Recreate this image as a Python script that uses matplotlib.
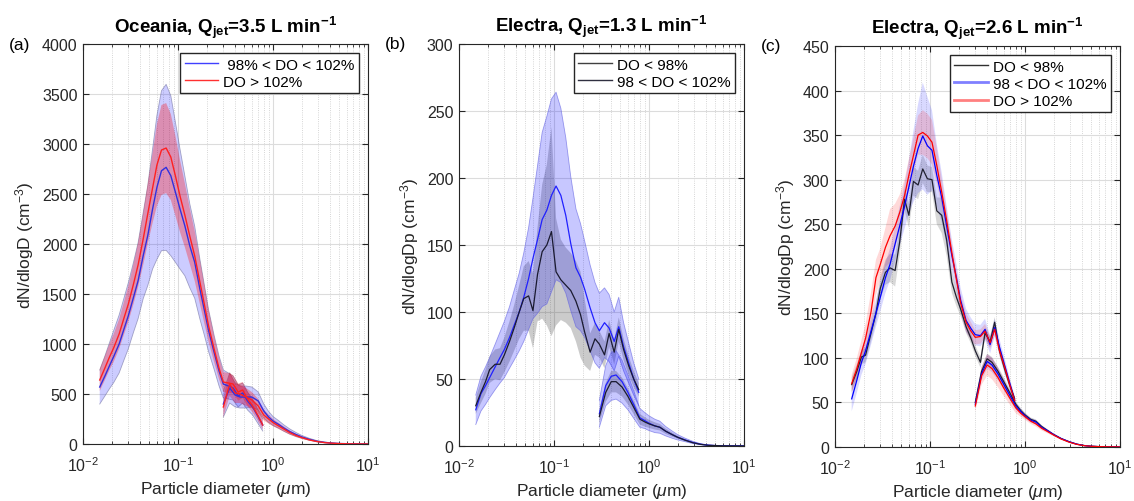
import numpy as np
import matplotlib
matplotlib.use('Agg')
import matplotlib.pyplot as plt
from matplotlib.lines import Line2D
from matplotlib.ticker import LogLocator, NullFormatter, MultipleLocator

plt.rcParams['font.family'] = ['Liberation Sans', 'DejaVu Sans']
plt.rcParams['mathtext.fontset'] = 'custom'
plt.rcParams['mathtext.rm'] = 'Liberation Sans'
plt.rcParams['mathtext.it'] = 'Liberation Sans:italic'
plt.rcParams['mathtext.bf'] = 'Liberation Sans:bold'

# particle diameters (um): fine-mode instrument and coarse-mode instrument
d_fine = [0.015, 0.017, 0.019, 0.021, 0.024, 0.027, 0.030, 0.034, 0.038, 0.043,
          0.048, 0.054, 0.060, 0.067, 0.075, 0.084, 0.094, 0.105, 0.118, 0.133,
          0.150, 0.170, 0.19, 0.21, 0.24, 0.27, 0.30, 0.34, 0.38, 0.43,
          0.48, 0.54, 0.61, 0.69, 0.78]
d_coarse = [0.3, 0.35, 0.4, 0.45, 0.52, 0.6, 0.7, 0.8, 0.9, 1.0, 1.15, 1.3,
            1.5, 1.75, 2.0, 2.4, 2.9, 3.5, 4.2, 5.0, 6.0, 7.5, 10.0]

# (a) Oceania, Qjet = 3.5 L/min
a_mid_fine = [570, 680, 783, 873, 1000, 1150, 1283, 1467, 1633, 1883, 2083, 2350, 2567, 2733,
              2767, 2683, 2517, 2350, 2183, 1983, 1817, 1550, 1333, 1133, 917, 733, 600,
              580, 560, 480, 510, 430, 370, 280, 190]
a_mid_fine_sd = [170, 200, 230, 260, 290, 310, 330, 350, 380, 430, 500, 600, 720, 800,
                 830, 800, 700, 600, 500, 420, 360, 300, 250, 210, 170, 150, 140,
                 130, 120, 110, 100, 90, 80, 70, 60]
a_high_fine = [640, 760, 870, 960, 1100, 1260, 1400, 1600, 1790, 2050, 2300, 2560, 2790, 2940,
               2960, 2870, 2680, 2480, 2290, 2080, 1880, 1620, 1390, 1180, 950, 760, 620,
               610, 600, 520, 540, 450, 380, 290, 190]
a_high_fine_sd = [110, 120, 130, 140, 150, 165, 180, 200, 220, 260, 300, 350, 410, 450,
                  450, 430, 400, 360, 320, 280, 250, 220, 190, 160, 130, 110, 100,
                  100, 90, 85, 80, 70, 65, 55, 45]
a_mid_coarse = [400, 560, 490, 470, 470, 470, 430, 330, 270, 230, 195, 160, 125, 95, 72, 48,
                28, 16, 9, 5, 3, 1, 0.5]
a_mid_coarse_sd = [130, 150, 120, 110, 110, 100, 90, 70, 55, 45, 38, 32, 26, 20, 15, 10,
                   6, 4, 2, 1, 1, 0.5, 0.3]
a_high_coarse = [370, 600, 510, 500, 470, 440, 380, 290, 250, 215, 180, 150, 115, 85, 65, 42,
                 25, 14, 8, 4, 2, 1, 0.5]
a_high_coarse_sd = [100, 120, 100, 90, 90, 80, 70, 55, 45, 36, 30, 26, 21, 16, 12, 8,
                    5, 3, 2, 1, 0.5, 0.3, 0.2]

# (b) Electra, Qjet = 1.3 L/min
b_low_fine = [30, 40, 48, 57, 61, 61, 68, 78, 88, 100, 110, 112, 101, 128,
              145, 150, 160, 130, 124, 120, 116, 108, 98, 85, 70, 80, 76,
              68, 84, 70, 87, 72, 60, 50, 42]
b_low_fine_sd = [6, 8, 9, 10, 11, 12, 13, 15, 17, 20, 24, 26, 28, 35,
                 50, 60, 78, 40, 30, 28, 28, 30, 32, 25, 14, 12, 10,
                 10, 10, 9, 9, 8, 7, 6, 5]
b_mid_fine = [27, 39, 45, 51, 59, 66, 72, 81, 90, 100, 111, 125, 140, 154,
              169, 176, 187, 194, 187, 172, 151, 133, 126, 117, 103, 92, 86,
              92, 88, 78, 89, 74, 62, 50, 40]
b_mid_fine_sd = [11, 13, 14, 15, 17, 19, 21, 23, 26, 29, 33, 38, 45, 55,
                 65, 70, 72, 70, 65, 58, 50, 44, 40, 36, 32, 30, 28,
                 26, 25, 22, 22, 18, 15, 12, 10]
b_low_coarse = [22, 40, 48, 48, 44, 37, 28, 20, 18, 16.5, 15, 14, 11, 8.5, 6.5, 4.3,
                2.4, 1.2, 0.5, 0.3, 0.1, 0.05, 0]
b_low_coarse_sd = [5, 7, 8, 8, 7, 6, 5, 4, 3.5, 3, 2.7, 2.4, 2, 1.5, 1.1, 0.8,
                   0.5, 0.3, 0.1, 0.05, 0.05, 0.05, 0.05]
b_mid_coarse = [24, 45, 52, 53, 48, 40, 30, 21, 19, 17, 15, 14, 11, 8.5, 6.5, 4.5,
                2.6, 1.3, 0.6, 0.3, 0.15, 0.1, 0.05]
b_mid_coarse_sd = [10, 15, 18, 18, 16, 13, 10, 7, 6, 5.5, 5, 4.5, 3.5, 2.7, 2, 1.3,
                   0.8, 0.4, 0.2, 0.1, 0.05, 0.03, 0.02]

# (c) Electra, Qjet = 2.6 L/min
c_low_fine = [70, 85, 101, 103, 128, 150, 178, 196, 201, 198, 230, 278, 260, 298,
              294, 312, 301, 300, 265, 260, 232, 185, 168, 155, 135, 122, 108,
              95, 128, 118, 140, 108, 88, 70, 54]
c_low_fine_sd = [8, 8, 8, 8, 9, 10, 12, 14, 16, 18, 15, 12, 14, 16,
                 16, 16, 15, 14, 15, 20, 18, 12, 10, 8, 7, 6, 6,
                 6, 6, 6, 6, 5, 5, 4, 3]
c_mid_fine = [54, 75, 95, 108, 130, 150, 168, 190, 205, 228, 248, 270, 292, 315,
              335, 349, 338, 333, 305, 280, 248, 215, 190, 165, 142, 133, 126,
              125, 132, 115, 134, 112, 92, 72, 52]
c_mid_fine_sd = [14, 14, 14, 15, 15, 15, 16, 17, 18, 20, 22, 25, 30, 40,
                 50, 60, 55, 45, 35, 28, 22, 18, 15, 14, 13, 12, 12,
                 12, 12, 10, 10, 9, 8, 6, 5]
c_high_fine = [71, 88, 106, 122, 152, 190, 205, 224, 237, 248, 263, 282, 305, 327,
               350, 353, 349, 342, 316, 286, 254, 218, 188, 162, 140, 130, 123,
               124, 130, 117, 132, 108, 90, 70, 52]
c_high_fine_sd = [10, 12, 14, 16, 22, 20, 18, 22, 30, 25, 20, 18, 18, 20,
                  22, 25, 25, 25, 20, 15, 12, 10, 10, 10, 10, 10, 8,
                  8, 8, 7, 7, 6, 5, 5, 4]
c_low_coarse = [50, 85, 99, 95, 85, 73, 60, 48, 41, 36, 31, 29, 23, 18, 14, 9.5,
                6, 3.2, 1.6, 0.8, 0.4, 0.2, 0.1]
c_low_coarse_sd = [4, 5, 6, 6, 5, 5, 4, 3, 3, 2.5, 2, 2, 1.6, 1.3, 1, 0.7,
                   0.4, 0.2, 0.1, 0.05, 0.05, 0.05, 0.05]
c_mid_coarse = [48, 82, 96, 92, 82, 70, 57, 46, 40, 35, 30, 28, 22, 18, 14, 9.5,
                6, 3.2, 1.6, 0.8, 0.4, 0.2, 0.1]
c_mid_coarse_sd = [5, 7, 8, 8, 7, 6, 5, 4, 3.5, 3, 2.5, 2.5, 2, 1.6, 1.2, 0.8,
                   0.5, 0.3, 0.15, 0.05, 0.05, 0.05, 0.05]
c_high_coarse = [46, 80, 92, 88, 78, 66, 54, 44, 38, 34, 29, 26, 21, 17, 13.5, 9,
                 5.5, 3, 1.5, 0.8, 0.4, 0.2, 0.1]
c_high_coarse_sd = [6, 10, 12, 12, 11, 9, 7, 6, 4, 3.5, 3, 3, 2.5, 2, 1.5, 1,
                    0.7, 0.4, 0.2, 0.1, 0.05, 0.03, 0.02]

AX_COL = '#262626'
fig = plt.figure(figsize=(11.34, 5.02), dpi=100)
ax_a = fig.add_axes([0.0732, 0.1135, 0.2513, 0.7968])
ax_b = fig.add_axes([0.4048, 0.1096, 0.2513, 0.8008])
ax_c = fig.add_axes([0.7363, 0.1076, 0.2513, 0.7988])


def band(ax, d, m, s, color, alpha, edge=None, zorder=1):
    m = np.array(m, dtype=float)
    s = np.array(s, dtype=float)
    ax.fill_between(d, m - s, m + s, facecolor=color, alpha=alpha,
                    edgecolor='none', zorder=zorder)
    if edge is not None:
        ax.plot(d, m + s, color=edge, lw=0.6, alpha=0.6, zorder=zorder)
        ax.plot(d, m - s, color=edge, lw=0.6, alpha=0.6, zorder=zorder)


def style(ax, ymax, ystep, ylabel, title, tag):
    ax.set_xscale('log')
    ax.set_xlim(0.01, 10)
    ax.set_ylim(0, ymax)
    ax.yaxis.set_major_locator(MultipleLocator(ystep))
    ax.xaxis.set_major_locator(LogLocator(base=10, numticks=10))
    ax.xaxis.set_minor_locator(LogLocator(base=10, subs=np.arange(2, 10), numticks=20))
    ax.xaxis.set_minor_formatter(NullFormatter())
    ax.grid(True, which='major', color='#dcdcdc', lw=0.8, zorder=0)
    ax.grid(True, which='minor', axis='x', color='#c8c8c8', lw=0.6, ls=':', zorder=0)
    ax.set_axisbelow(True)
    ax.tick_params(which='both', direction='in', top=True, right=True,
                   colors=AX_COL, labelsize=11.5, labelcolor=AX_COL)
    ax.tick_params(which='major', length=4)
    ax.tick_params(which='minor', length=2)
    ax.tick_params(axis='x', which='major', pad=8)
    ax.tick_params(axis='y', which='major', pad=4)
    for sp in ax.spines.values():
        sp.set_color(AX_COL)
        sp.set_linewidth(0.8)
    ax.set_xlabel(r'Particle diameter ($\mu$m)', fontsize=12.5, color=AX_COL, labelpad=4)
    ax.set_ylabel(ylabel, fontsize=12.5, color=AX_COL, labelpad=4)
    ax.set_title(title, fontsize=13.5, fontweight='bold', pad=9)
    ax.text(-0.26, 1.0, tag, transform=ax.transAxes, fontsize=12.5, color='black',
            ha='left', va='center')


def legend(ax, handles, labels):
    ax.legend(handles, labels, loc='upper right', fontsize=11, fancybox=False,
              edgecolor=AX_COL, framealpha=1, handlelength=2.2, handletextpad=0.3,
              borderpad=0.3, labelspacing=0.2, borderaxespad=0.6)


# (a)
band(ax_a, d_fine, a_mid_fine, a_mid_fine_sd, 'blue', 0.2, edge='#7070a0')
band(ax_a, d_coarse, a_mid_coarse, a_mid_coarse_sd, 'blue', 0.2, edge='#7070a0')
band(ax_a, d_fine, a_high_fine, a_high_fine_sd, 'red', 0.3)
band(ax_a, d_coarse, a_high_coarse, a_high_coarse_sd, 'red', 0.3)
ax_a.plot(d_fine, a_mid_fine, color='#3030e0', lw=1, zorder=3)
ax_a.plot(d_coarse, a_mid_coarse, color='#3030e0', lw=1, zorder=3)
ax_a.plot(d_fine, a_high_fine, color='#ff2020', lw=1, zorder=4)
ax_a.plot(d_coarse, a_high_coarse, color='#ff2020', lw=1, zorder=4)
style(ax_a, 4000, 500, r'dN/dlogD (cm$^{-3}$)',
      r'Oceania, Q$_{\mathbf{jet}}$=3.5 L min$^{\mathbf{-1}}$', '(a)')
legend(ax_a, [Line2D([], [], color='#4040ff', lw=1), Line2D([], [], color='#ff3030', lw=1)],
       [' 98% < DO < 102%', 'DO > 102%'])

# (b)
band(ax_b, d_fine, b_low_fine, b_low_fine_sd, '#303030', 0.25, zorder=1)
band(ax_b, d_coarse, b_low_coarse, b_low_coarse_sd, '#303030', 0.25, zorder=1)
band(ax_b, d_fine, b_mid_fine, b_mid_fine_sd, 'blue', 0.22, edge='#6060e0', zorder=2)
band(ax_b, d_coarse, b_mid_coarse, b_mid_coarse_sd, 'blue', 0.22, edge='#6060e0', zorder=2)
ax_b.plot(d_fine, b_mid_fine, color='#2020ff', lw=0.9, zorder=3)
ax_b.plot(d_coarse, b_mid_coarse, color='#2020ff', lw=0.9, zorder=3)
ax_b.plot(d_fine, b_low_fine, color='#1a1a30', lw=0.9, zorder=4)
ax_b.plot(d_coarse, b_low_coarse, color='#1a1a30', lw=0.9, zorder=4)
style(ax_b, 300, 50, r'dN/dlogDp (cm$^{-3}$)',
      r'Electra, Q$_{\mathbf{jet}}$=1.3 L min$^{\mathbf{-1}}$', '(b)')
legend(ax_b, [Line2D([], [], color='#404040', lw=1), Line2D([], [], color='#303040', lw=1)],
       ['DO < 98%', '98 < DO < 102%'])

# (c)
band(ax_c, d_fine, c_low_fine, c_low_fine_sd, '#404040', 0.2)
band(ax_c, d_coarse, c_low_coarse, c_low_coarse_sd, '#404040', 0.2)
band(ax_c, d_fine, c_mid_fine, c_mid_fine_sd, 'blue', 0.15)
band(ax_c, d_coarse, c_mid_coarse, c_mid_coarse_sd, 'blue', 0.15)
band(ax_c, d_fine, c_high_fine, c_high_fine_sd, 'red', 0.15)
band(ax_c, d_coarse, c_high_coarse, c_high_coarse_sd, 'red', 0.15)
ax_c.plot(d_fine, c_low_fine, color='#202030', lw=0.9, zorder=3)
ax_c.plot(d_coarse, c_low_coarse, color='#202030', lw=0.9, zorder=3)
ax_c.plot(d_fine, c_mid_fine, color='blue', lw=0.9, zorder=4)
ax_c.plot(d_coarse, c_mid_coarse, color='blue', lw=0.9, zorder=4)
ax_c.plot(d_fine, c_high_fine, color='red', lw=0.9, zorder=5)
ax_c.plot(d_coarse, c_high_coarse, color='red', lw=0.9, zorder=5)
style(ax_c, 450, 50, r'dN/dlogDp (cm$^{-3}$)',
      r'Electra, Q$_{\mathbf{jet}}$=2.6 L min$^{\mathbf{-1}}$', '(c)')
legend(ax_c, [Line2D([], [], color='#303030', lw=1),
              Line2D([], [], color='#8080ff', lw=2),
              Line2D([], [], color='#ff8080', lw=2)],
       ['DO < 98%', '98 < DO < 102%', 'DO > 102%'])

fig.savefig('out.png', dpi=100)
